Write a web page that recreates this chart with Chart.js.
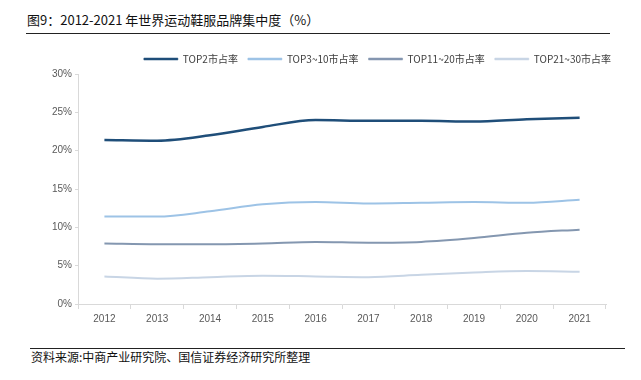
<!DOCTYPE html>
<html>
<head>
<meta charset="utf-8">
<script src="https://cdn.jsdelivr.net/npm/chart.js@4"></script>
<style>
  body { margin: 0; background: #fff; width: 641px; height: 380px; position: relative; overflow: hidden; }
  #title { position: absolute; left: 27px; top: 10px; font: 13px "Noto Sans CJK SC"; color: #111; }
  #rule1 { position: absolute; left: 26px; top: 33px; width: 584px; height: 1px; background: #222; }
  #rule2 { position: absolute; left: 30px; top: 348px; width: 595px; height: 1px; background: #222; }
  #source { position: absolute; left: 31px; top: 348px; font: 12px "Noto Sans CJK SC"; color: #111; }
  #box { position: absolute; left: 30px; top: 44px; width: 608px; height: 285px; }
</style>
</head>
<body>
<div id="title">图9：2012-2021 年世界运动鞋服品牌集中度（%）</div>
<div id="rule1"></div>
<div id="box"><canvas id="myChart"></canvas></div>
<div id="rule2"></div>
<div id="source">资料来源:中商产业研究院、国信证券经济研究所整理</div>
<script>
const years = ['2012', '2013', '2014', '2015', '2016', '2017', '2018', '2019', '2020', '2021'];
const top2 = [21.4, 21.3, 22.0, 23.1, 24.0, 23.9, 23.9, 23.8, 24.1, 24.3];
const top3to10 = [11.4, 11.4, 12.1, 13.0, 13.3, 13.1, 13.2, 13.3, 13.2, 13.6];
const top11to20 = [7.9, 7.8, 7.8, 7.9, 8.1, 8.0, 8.1, 8.6, 9.3, 9.7];
const top21to30 = [3.6, 3.3, 3.5, 3.7, 3.6, 3.5, 3.8, 4.1, 4.3, 4.2];
const seriesNames = ['TOP2市占率', 'TOP3~10市占率', 'TOP11~20市占率', 'TOP21~30市占率'];
const colors = ['#1f4e79', '#9dc3e6', '#8497b0', '#c8d5e5'];

const seriesData = [top2, top3to10, top11to20, top21to30];
const datasets = seriesData.map((d, i) => ({
  label: seriesNames[i],
  data: d,
  borderColor: colors[i],
  backgroundColor: colors[i],
  borderWidth: i === 0 ? 2.5 : 2,
  pointRadius: 0,
  tension: 0.4,
  cubicInterpolationMode: 'monotone',
  fill: false
}));

new Chart('myChart', {
  type: 'line',
  data: { labels: years, datasets: datasets },
  options: {
    responsive: true,
    maintainAspectRatio: false,
    animation: false,
    layout: { padding: { left: 19, right: 17, top: 0, bottom: 0 } },
    plugins: {
      tooltip: { enabled: false },
      legend: {
        position: 'top',
        align: 'end',
        labels: {
          boxWidth: 34,
          boxHeight: 2,
          padding: 10,
          color: '#404040',
          font: { family: '"Noto Sans CJK SC"', size: 10 },
          generateLabels: chart => Chart.defaults.plugins.legend.labels.generateLabels(chart)
            .map(item => Object.assign(item, { lineWidth: 0.5 }))
        }
      }
    },
    scales: {
      x: {
        offset: true,
        grid: { offset: true, drawOnChartArea: false, drawTicks: true, tickLength: 5, color: '#d9d9d9' },
        border: { color: '#d9d9d9' },
        ticks: { color: '#595959', font: { family: '"Liberation Sans"', size: 10 }, padding: 4 }
      },
      y: {
        min: 0,
        max: 30,
        grid: { drawOnChartArea: false, drawTicks: true, tickLength: 3, color: '#d9d9d9' },
        border: { color: '#d9d9d9' },
        ticks: { stepSize: 5, color: '#595959', font: { family: '"Liberation Sans"', size: 10 }, padding: 3,
          callback: v => v + '%' }
      },
      // empty right axis, only used to pull the plot's right edge in
      spacer: {
        position: 'right',
        grid: { display: false },
        border: { display: false },
        ticks: { display: false },
        afterFit: axis => { axis.width = 15; }
      }
    }
  }
});
</script>
</body>
</html>
